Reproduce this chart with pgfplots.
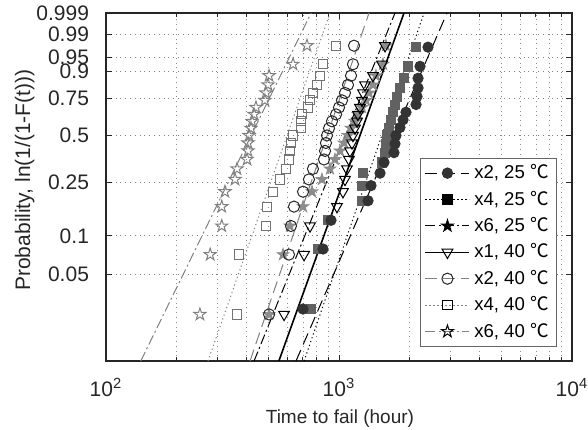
\documentclass[border=0pt]{standalone}
\usepackage{fontspec}
\setmainfont{Liberation Sans}
\newfontfamily\cjk{Noto Sans CJK SC}
\usepackage{pgfplots}
\usepackage{pgfplotstable}
\pgfplotsset{compat=1.18}

% five-pointed star marks (open / filled)
\def\pstarpath{%
  \pgfpathmoveto{\pgfpointpolar{90}{\pgfplotmarksize}}%
  \pgfpathlineto{\pgfpointpolar{126}{0.382*\pgfplotmarksize}}%
  \pgfpathlineto{\pgfpointpolar{162}{\pgfplotmarksize}}%
  \pgfpathlineto{\pgfpointpolar{198}{0.382*\pgfplotmarksize}}%
  \pgfpathlineto{\pgfpointpolar{234}{\pgfplotmarksize}}%
  \pgfpathlineto{\pgfpointpolar{270}{0.382*\pgfplotmarksize}}%
  \pgfpathlineto{\pgfpointpolar{306}{\pgfplotmarksize}}%
  \pgfpathlineto{\pgfpointpolar{342}{0.382*\pgfplotmarksize}}%
  \pgfpathlineto{\pgfpointpolar{18}{\pgfplotmarksize}}%
  \pgfpathlineto{\pgfpointpolar{54}{0.382*\pgfplotmarksize}}%
  \pgfpathclose}
\pgfdeclareplotmark{pstar}{\pstarpath\pgfusepathqstroke}
\pgfdeclareplotmark{pstarfill}{\pstarpath\pgfusepathqfillstroke}

% y = ln(-ln(1-F)), F = (i-0.5)/n
\pgfplotstableread{
t y
701 -3.6243
854 -2.4981
924 -1.9584
1332 -1.5916
1372 -1.3082
1500 -1.0738
1560 -0.8706
1722 -0.6889
1739 -0.5225
1756 -0.3665
1827 -0.2177
1883 -0.0730
1939 0.0701
2141 0.2149
2162 0.3649
2184 0.5257
2184 0.7071
2227 0.9318
2410 1.2913
}\xtwoTF
\pgfplotstableread{
t y
758 -3.6243
813 -2.4981
897 -1.9584
1255 -1.5916
1255 -1.3082
1268 -1.0738
1530 -0.8706
1576 -0.6889
1591 -0.5225
1607 -0.3665
1639 -0.2177
1672 -0.0730
1705 0.0701
1739 0.2149
1774 0.3649
1827 0.5257
1901 0.7071
1978 0.9318
2141 1.2913
}\xfourTF
\pgfplotstableread{
t y
501 -3.7257
575 -2.6022
616 -2.0655
701 -1.7020
766 -1.4223
845 -1.1917
915 -0.9933
961 -0.8168
1010 -0.6562
1051 -0.5072
1093 -0.3665
1126 -0.2316
1171 -0.1004
1206 0.0292
1255 0.1593
1306 0.2925
1345 0.4321
1399 0.5832
1441 0.7553
1545 0.9704
1591 1.3185
}\xsixTF
\pgfplotstableread{
t y
581 -3.7257
708 -2.6022
751 -2.0655
980 -1.7020
1040 -1.4223
1061 -1.1917
1082 -0.9933
1104 -0.8168
1115 -0.6562
1137 -0.5072
1148 -0.3665
1171 -0.2316
1195 -0.1004
1206 0.0292
1230 0.1593
1255 0.2925
1268 0.4321
1293 0.5832
1399 0.7553
1530 0.9704
1576 1.3185
}\xoneF
\pgfplotstableread{
t y
501 -3.7257
610 -2.6022
622 -2.0655
641 -1.7020
701 -1.4223
743 -1.1917
773 -0.9933
862 -0.8168
871 -0.6562
879 -0.5072
888 -0.3665
906 -0.2316
933 -0.1004
971 0.0292
1000 0.1593
1030 0.2925
1061 0.4321
1093 0.5832
1126 0.7553
1148 0.9704
1160 1.3185
}\xtwoF
\pgfplotstableread{
t y
365 -3.7257
372 -2.6022
486 -2.0655
491 -1.7020
521 -1.4223
558 -1.1917
592 -0.9933
610 -0.8168
616 -0.6562
622 -0.5072
635 -0.3665
687 -0.2316
687 -0.1004
694 0.0292
736 0.1593
751 0.2925
773 0.4321
805 0.5832
829 0.7553
854 0.9704
971 1.3185
}\xfourF
\pgfplotstableread{
t y
253 -3.7257
280 -2.6022
314 -2.0655
314 -1.7020
324 -1.4223
358 -1.1917
365 -0.9933
403 -0.8168
407 -0.6562
407 -0.5072
411 -0.3665
419 -0.2316
423 -0.1004
432 0.0292
440 0.1593
481 0.2925
486 0.4321
496 0.5832
501 0.7553
635 0.9704
729 1.3185
}\xsixF

\pgfplotsset{
  lA/.style={black, line width=0.5pt, dash pattern=on 6pt off 3pt},
  lB/.style={black, line width=0.5pt, dash pattern=on 0.6pt off 1.4pt},
  lC/.style={black, line width=0.5pt, dash pattern=on 5pt off 1.6pt on 1pt off 1.6pt},
  lD/.style={black, line width=0.8pt, solid},
  lE/.style={black!50, line width=0.5pt, dash pattern=on 6pt off 3pt},
  lF/.style={black!50, line width=0.5pt, dash pattern=on 0.6pt off 1.4pt},
  lG/.style={black!50, line width=0.5pt, dash pattern=on 5pt off 1.6pt on 1pt off 1.6pt},
  mA/.style={mark=*, mark size=2.6pt, mark options={solid, fill=black!80, draw=black!80}},
  mB/.style={mark=square*, mark size=2.3pt, mark options={solid, fill=black!62, draw=black!62}},
  mC/.style={mark=pstarfill, mark size=3.1pt, mark options={solid, fill=black!45, draw=black!45, line width=0.4pt}},
  mD/.style={mark=triangle, mark size=3.1pt, mark options={solid, rotate=180, draw=black, line width=0.5pt}},
  mE/.style={mark=o, mark size=2.8pt, mark options={solid, draw=black!85, line width=0.5pt}},
  mF/.style={mark=square, mark size=2.3pt, mark options={solid, draw=black!55, line width=0.5pt}},
  mG/.style={mark=pstar, mark size=3.2pt, mark options={solid, draw=black!50, line width=0.5pt}},
}

\begin{document}
\begin{tikzpicture}
\useasboundingbox (-53pt,-34pt) rectangle (241pt,180.5pt);
\begin{axis}[
  scale only axis,
  width=233pt, height=174pt,
  at={(0,0)}, anchor=south west,
  xmode=log, xmin=100, xmax=10000,
  ymin=-4.600, ymax=1.9326,
  xtick={100,1000,10000},
  xticklabels={10\textsuperscript{2},10\textsuperscript{3},10\textsuperscript{4}},
  ytick={-2.9702,-2.2504,-1.2459,-0.3665,0.3266,0.8340,1.0972,1.5272,1.9326},
  yticklabels={0.05,0.1,0.25,0.5,0.75,0.9,0.95,0.99,0.999},
  xmajorgrids, xminorgrids, ymajorgrids,
  grid style={black!50, dotted, line width=0.4pt},
  minor grid style={black!45, dotted, line width=0.4pt},
  axis line style={black!85, line width=0.6pt},
  tick style={black!85, line width=0.5pt},
  major tick length=3pt, minor tick length=1.8pt,
  tick label style={font=\fontsize{10.5}{12}\selectfont, black!85},
  yticklabel style={xshift=-5pt},
  xticklabel style={yshift=-5pt},
  xlabel={Time to fail (hour)},
  ylabel={Probability, ln(1/(1-F(t)))},
  label style={font=\fontsize{9.5}{11}\selectfont, black!85},
  xlabel style={at={(axis description cs:0.502,-0.181)}, anchor=base},
  ylabel style={at={(axis description cs:-0.163,0.52)}, anchor=base, font=\fontsize{10.5}{12}\selectfont},
  legend style={at={(axis description cs:0.968,0.040)}, anchor=south east,
    draw=black!60, fill=white, font=\fontsize{9.3}{10}\selectfont,
    inner xsep=2pt, inner ysep=1pt, row sep=0pt,
    nodes={inner ysep=2.3pt}, cells={anchor=west}},
  legend image code/.code={\draw[mark repeat=2,mark phase=2,#1] plot coordinates {(0pt,0pt) (11pt,0pt) (22pt,0pt)};},
]
% fitted lines
\addplot[lG, forget plot] coordinates {(141,-4.6) (759,1.9326)};
\addplot[lF, forget plot] coordinates {(274,-4.6) (915,1.9326)};
\addplot[lE, forget plot] coordinates {(415,-4.6) (1345,1.9326)};
\addplot[lC, forget plot] coordinates {(432,-4.6) (1739,1.9326)};
\addplot[lD, forget plot] coordinates {(552,-4.6) (1901,1.9326)};
\addplot[lA, forget plot] coordinates {(654,-4.6) (2907,1.9326)};
\addplot[lB, forget plot] coordinates {(708,-4.6) (2317,1.9326)};
% data points
\addplot[only marks, mG, forget plot] table[x=t,y=y] {\xsixF};
\addplot[only marks, mF, forget plot] table[x=t,y=y] {\xfourF};
\addplot[only marks, mC, forget plot] table[x=t,y=y] {\xsixTF};
\addplot[only marks, mE, forget plot] table[x=t,y=y] {\xtwoF};
\addplot[only marks, mD, forget plot] table[x=t,y=y] {\xoneF};
\addplot[only marks, mB, forget plot] table[x=t,y=y] {\xfourTF};
\addplot[only marks, mA, forget plot] table[x=t,y=y] {\xtwoTF};
% legend
\addlegendimage{lA, mA}\addlegendentry{x2, 25 {\cjk ℃}}
\addlegendimage{lB, mB, mark options={solid, fill=black, draw=black}}\addlegendentry{x4, 25 {\cjk ℃}}
\addlegendimage{lC, mC, mark options={solid, fill=black, draw=black}}\addlegendentry{x6, 25 {\cjk ℃}}
\addlegendimage{lD, mD}\addlegendentry{x1, 40 {\cjk ℃}}
\addlegendimage{lE, mE}\addlegendentry{x2, 40 {\cjk ℃}}
\addlegendimage{lF, mF, mark options={solid, draw=black}}\addlegendentry{x4, 40 {\cjk ℃}}
\addlegendimage{lG, mG, mark options={solid, draw=black}}\addlegendentry{x6, 40 {\cjk ℃}}
\end{axis}
\end{tikzpicture}
\end{document}
